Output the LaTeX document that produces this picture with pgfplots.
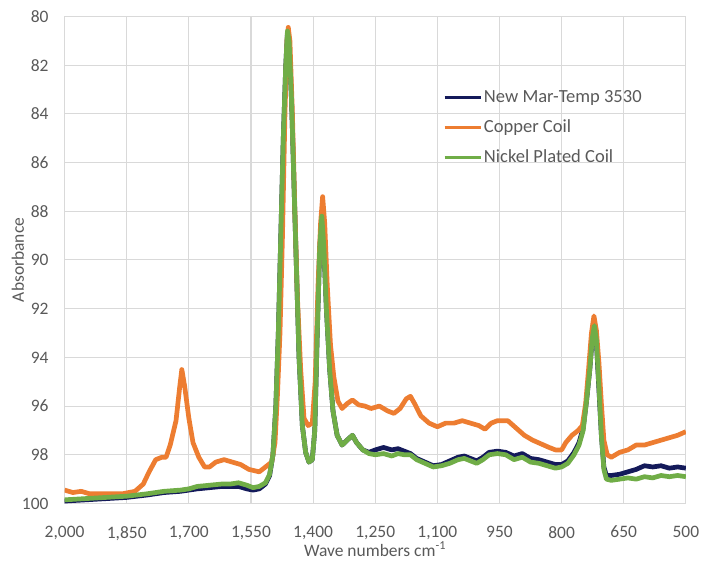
\documentclass[border=0pt]{standalone}
\usepackage{fontspec}
\setmainfont{Carlito}
\usepackage{pgfplots}
\pgfplotsset{compat=1.18}
\definecolor{navy}{HTML}{141A5A}
\definecolor{copper}{HTML}{ED7D31}
\definecolor{nickel}{HTML}{70AD47}
\definecolor{gridgray}{HTML}{D9D9D9}
\definecolor{labgray}{HTML}{595959}

\begin{document}
\begin{tikzpicture}
\path (-1.3cm,-1.15cm) rectangle (12.8cm,10.13cm);
\begin{axis}[at={(0,0)},anchor=south west,scale only axis,width=12.5cm,height=9.8cm,
x dir=reverse,y dir=reverse,xmin=500,xmax=2000,ymin=80,ymax=100,
xtick={500,650,...,2000},ytick={80,82,...,100},scaled x ticks=false,
grid=major,major grid style={gridgray,line width=0.6pt},
axis line style={gridgray,line width=0.6pt},tick style={draw=none},
ticklabel style={font=\fontsize{10}{12}\selectfont,text=labgray},
/pgf/number format/assume math mode=true,/pgf/number format/1000 sep={,},
x tick label style={yshift=-0.33cm},y tick label style={xshift=-0.2cm},
xlabel={Wave numbers cm\textsuperscript{-1}},ylabel={Absorbance},
xlabel style={at={(axis description cs:0.5,-0.094)},anchor=center,inner sep=0pt,font=\fontsize{10}{12}\selectfont,text=labgray},
ylabel style={at={(axis description cs:-0.0752,0.5)},anchor=center,inner sep=0pt,font=\fontsize{10}{12}\selectfont,text=labgray},
legend style={at={(0.6,0.86)},anchor=north west,draw=none,fill=none,row sep=6.5pt,
  font=\fontsize{10.6}{12}\selectfont,text=labgray,nodes={inner sep=1pt}},
legend cell align=left,
legend image code/.code={\draw[#1,line width=2pt] (0cm,0cm) -- (0.72cm,0cm);},
every axis plot/.append style={line width=2.7pt,line join=round}]

% New Mar-Temp 3530
\addplot[navy] coordinates {
(2000,99.9) (1950,99.85) (1900,99.8) (1850,99.75) (1800,99.65) (1760,99.55)
(1720,99.5) (1700,99.45) (1680,99.4) (1650,99.35) (1620,99.3) (1600,99.3)
(1580,99.3) (1560,99.4) (1545,99.45) (1530,99.4) (1515,99.2) (1505,98.85)
(1497,98.0) (1490,96) (1484,93) (1478,89) (1472,85) (1466,82) (1462,80.7)
(1458,81.1) (1452,83.5) (1446,87) (1440,90.5) (1434,94) (1426,96.8)
(1418,97.9) (1410,98.3) (1402,98.2) (1396,97) (1390,93) (1384,89.5)
(1379,88.3) (1374,89.5) (1368,92) (1360,94.5) (1352,96.2) (1342,97.2)
(1330,97.6) (1318,97.4) (1305,97.2) (1295,97.5) (1280,97.8) (1265,97.9)
(1250,97.8) (1230,97.7) (1210,97.8) (1195,97.75) (1180,97.85) (1165,97.95)
(1150,98.15) (1130,98.3) (1110,98.45) (1090,98.4) (1070,98.25) (1050,98.1)
(1035,98.05) (1020,98.15) (1005,98.25) (990,98.1) (975,97.9) (955,97.85)
(935,97.9) (915,98.05) (895,97.95) (875,98.15) (855,98.2) (835,98.3)
(815,98.4) (800,98.4) (785,98.25) (770,97.9) (758,97.5) (748,96.9)
(740,95.8) (732,94.5) (726,93.2) (721,92.8) (716,93.4) (710,95.3)
(704,97.2) (698,98.5) (692,98.85) (680,98.85) (660,98.8) (640,98.7)
(620,98.6) (600,98.45) (580,98.5) (560,98.45) (540,98.55) (520,98.5) (500,98.55)};
\addlegendentry{New Mar-Temp 3530}

% Copper Coil
\addplot[copper] coordinates {
(2000,99.45) (1980,99.55) (1960,99.5) (1940,99.6) (1900,99.6) (1860,99.6)
(1830,99.5) (1810,99.2) (1796,98.7) (1780,98.2) (1765,98.1) (1755,98.1)
(1745,97.6) (1731,96.6) (1722,95.2) (1717,94.5) (1710,95.2) (1700,96.5)
(1690,97.5) (1676,98.1) (1662,98.5) (1650,98.5) (1635,98.3) (1615,98.2)
(1595,98.3) (1575,98.4) (1555,98.6) (1530,98.7) (1515,98.5) (1500,98.3)
(1492,97.5) (1486,95.5) (1480,93) (1474,89) (1468,84) (1463,81)
(1460,80.45) (1456,81) (1450,84) (1444,88) (1438,91.5) (1430,94.5)
(1422,96.5) (1412,96.8) (1402,96.7) (1395,95) (1388,91) (1382,88.5)
(1377,87.4) (1372,88.5) (1366,91) (1358,93.5) (1350,94.8) (1340,95.8)
(1330,96.1) (1318,95.9) (1305,95.75) (1290,95.95) (1275,96.0) (1260,96.1)
(1240,96.0) (1220,96.2) (1205,96.3) (1190,96.1) (1175,95.7) (1165,95.6)
(1155,95.9) (1140,96.4) (1120,96.7) (1100,96.85) (1080,96.7) (1060,96.7)
(1040,96.6) (1020,96.7) (1000,96.8) (985,96.95) (970,96.7) (955,96.6)
(930,96.6) (910,96.9) (890,97.2) (870,97.4) (850,97.55) (830,97.7)
(815,97.8) (800,97.8) (790,97.5) (775,97.2) (760,97.0) (750,96.8)
(742,95.9) (735,94.5) (728,93.0) (722,92.3) (716,92.9) (710,94.2)
(704,95.9) (698,97.4) (690,98.0) (680,98.1) (660,97.9) (640,97.8)
(620,97.6) (600,97.6) (580,97.5) (560,97.4) (540,97.3) (520,97.2) (500,97.05)};
\addlegendentry{Copper Coil}

% Nickel Plated Coil
\addplot[nickel] coordinates {
(2000,99.85) (1950,99.8) (1900,99.75) (1850,99.7) (1800,99.6) (1760,99.5)
(1720,99.45) (1700,99.4) (1680,99.3) (1650,99.25) (1620,99.2) (1600,99.2)
(1580,99.15) (1560,99.25) (1545,99.35) (1530,99.3) (1515,99.15) (1505,98.8)
(1497,98.0) (1490,96) (1484,93) (1478,89) (1472,85) (1466,82) (1462,80.6)
(1458,81) (1452,83.5) (1446,87) (1440,90.5) (1434,94) (1426,96.8)
(1418,97.9) (1410,98.3) (1402,98.2) (1396,97) (1390,93) (1384,89.5)
(1379,88.2) (1374,89.5) (1368,92) (1360,94.5) (1352,96.2) (1342,97.2)
(1330,97.6) (1318,97.4) (1305,97.2) (1295,97.5) (1280,97.8) (1265,97.95)
(1250,98.0) (1230,97.95) (1210,98.05) (1195,97.95) (1180,98.0) (1165,98.0)
(1150,98.2) (1130,98.35) (1110,98.5) (1090,98.45) (1070,98.35) (1050,98.2)
(1035,98.15) (1020,98.25) (1005,98.35) (990,98.2) (975,98.0) (955,97.95)
(935,98.0) (915,98.2) (895,98.1) (875,98.3) (855,98.35) (835,98.45)
(815,98.55) (800,98.5) (785,98.35) (770,98.0) (758,97.6) (748,97.0)
(740,95.8) (732,94.5) (726,93.2) (721,92.7) (716,93.3) (710,95.2)
(704,97.2) (698,98.6) (692,99.0) (680,99.05) (660,99.0) (640,98.95)
(620,99.0) (600,98.9) (580,98.95) (560,98.85) (540,98.9) (520,98.85) (500,98.9)};
\addlegendentry{Nickel Plated Coil}
\end{axis}
\end{tikzpicture}
\end{document}
